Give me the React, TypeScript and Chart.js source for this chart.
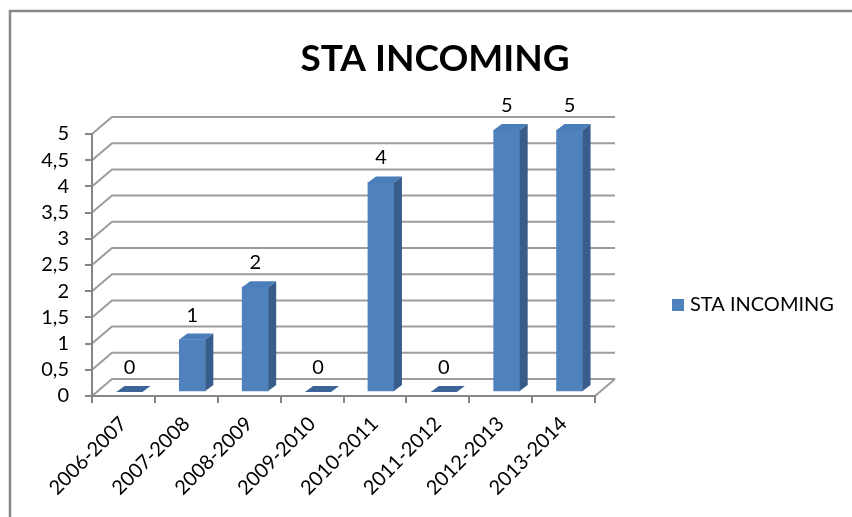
import React, { useEffect, useRef } from 'react';
import { Chart, registerables } from 'chart.js';

Chart.register(...registerables);

const chartTitle = 'STA INCOMING';
const seriesLabel = 'STA INCOMING';
const categories = ['2006-2007', '2007-2008', '2008-2009', '2009-2010', '2010-2011', '2011-2012', '2012-2013', '2013-2014'];
const values = [0, 1, 2, 0, 4, 0, 5, 5];
const yTickLabels = ['0', '0,5', '1', '1,5', '2', '2,5', '3', '3,5', '4', '4,5', '5'];

const FRONT = '#4F81BD';
const SIDE = '#385D8A';
const TOP = '#4A7DBA';
const FLAT = '#3B6598';
const GRID = '#9C9C9C';
const AXIS = '#868686';
const FONT = 'Lato, "Open Sans", sans-serif';

const WALL_DX = 20;
const WALL_DY = -17;
const SHIFT_X = 6;
const SHIFT_Y = -4;
const DEPTH_X = 8;
const DEPTH_Y = -6;

const threeD = {
  id: 'threeD',
  beforeDraw(chart: any) {
    const { ctx, scales } = chart;
    const x = scales.x;
    const y = scales.y;
    ctx.save();
    ctx.strokeStyle = '#878787';
    ctx.lineWidth = 2.5;
    ctx.beginPath();
    ctx.moveTo(10, chart.height + 2);
    ctx.lineTo(10, 11);
    ctx.lineTo(chart.width + 2, 11);
    ctx.stroke();
    ctx.strokeStyle = GRID;
    ctx.lineWidth = 2;
    y.ticks.forEach((t: any) => {
      const py = y.getPixelForValue(t.value);
      ctx.beginPath();
      ctx.moveTo(x.left, py);
      ctx.lineTo(x.left + WALL_DX, py + WALL_DY);
      ctx.lineTo(x.right + WALL_DX, py + WALL_DY);
      ctx.stroke();
    });
    const p0 = y.getPixelForValue(0);
    ctx.beginPath();
    ctx.moveTo(x.right, p0);
    ctx.lineTo(x.right + WALL_DX, p0 + WALL_DY);
    ctx.stroke();
    ctx.restore();
  },
  beforeDatasetsDraw(chart: any) {
    chart.ctx.save();
    chart.ctx.translate(SHIFT_X, SHIFT_Y);
  },
  afterDatasetsDraw(chart: any) {
    const { ctx } = chart;
    const meta = chart.getDatasetMeta(0);
    const data = chart.data.datasets[0].data;
    meta.data.forEach((bar: any, i: number) => {
      const { x, y, base, width } = bar.getProps(['x', 'y', 'base', 'width'], true);
      const x0 = x - width / 2;
      const x1 = x + width / 2;
      if (base - y > 0.5) {
        ctx.fillStyle = SIDE;
        ctx.beginPath();
        ctx.moveTo(x1, y);
        ctx.lineTo(x1 + DEPTH_X, y + DEPTH_Y);
        ctx.lineTo(x1 + DEPTH_X, base + DEPTH_Y);
        ctx.lineTo(x1, base);
        ctx.closePath();
        ctx.fill();
      }
      ctx.fillStyle = data[i] === 0 ? FLAT : TOP;
      ctx.beginPath();
      ctx.moveTo(x0, y);
      ctx.lineTo(x0 + DEPTH_X, y + DEPTH_Y);
      ctx.lineTo(x1 + DEPTH_X, y + DEPTH_Y);
      ctx.lineTo(x1, y);
      ctx.closePath();
      ctx.fill();
      ctx.fillStyle = '#000';
      ctx.font = '20px ' + FONT;
      ctx.textAlign = 'center';
      ctx.textBaseline = 'alphabetic';
      ctx.fillText(String(data[i]), x, y - 18);
    });
    ctx.restore();
  },
  afterDraw(chart: any) {
    const { ctx } = chart;
    ctx.save();
    ctx.fillStyle = '#000';
    ctx.font = 'bold 37px ' + FONT;
    ctx.textAlign = 'center';
    ctx.textBaseline = 'alphabetic';
    ctx.fillText(chartTitle, 435, 71);
    const ds = chart.data.datasets[0];
    ctx.fillStyle = ds.backgroundColor;
    ctx.fillRect(672, 299, 12, 12);
    ctx.fillStyle = '#000';
    ctx.font = '20px ' + FONT;
    ctx.textAlign = 'left';
    ctx.textBaseline = 'middle';
    ctx.fillText(ds.label, 690, 305);
    ctx.restore();
  },
};

export default function App() {
  const ref = useRef<HTMLCanvasElement>(null);
  useEffect(() => {
    if (!ref.current) return;
    const chart = new Chart(ref.current, {
      type: 'bar',
      data: {
        labels: categories,
        datasets: [
          {
            label: seriesLabel,
            data: values,
            backgroundColor: FRONT,
            barThickness: 26,
          },
        ],
      },
      options: {
        responsive: false,
        devicePixelRatio: 1,
        animation: false,
        layout: { padding: { top: 134, left: 0, right: 257, bottom: 0 } },
        plugins: {
          legend: { display: false },
          title: { display: false },
          tooltip: { enabled: false },
        },
        scales: {
          x: {
            type: 'category',
            offset: true,
            grid: { offset: true, drawOnChartArea: false, drawTicks: true, tickLength: 7, color: AXIS, lineWidth: 2 },
            border: { display: true, color: AXIS, width: 2 },
            ticks: {
              minRotation: 45,
              maxRotation: 45,
              autoSkip: false,
              padding: 9,
              color: '#000',
              font: { family: FONT, size: 20 },
            },
            afterFit(scale: any) {
              scale.height = 121;
            },
          },
          y: {
            min: 0,
            max: 5,
            grid: { drawOnChartArea: false, drawTicks: true, tickLength: 7, color: AXIS, lineWidth: 2 },
            border: { display: true, color: AXIS, width: 2 },
            ticks: {
              stepSize: 0.5,
              autoSkip: false,
              padding: 16,
              color: '#000',
              font: { family: FONT, size: 20 },
              callback: (_v: any, i: number) => yTickLabels[i],
            },
            afterFit(scale: any) {
              scale.width = 92;
            },
          },
        },
      },
      plugins: [threeD],
    });
    return () => chart.destroy();
  }, []);
  return <canvas ref={ref} width={852} height={517} style={{ position: 'fixed', left: 0, top: 0 }} />;
}
